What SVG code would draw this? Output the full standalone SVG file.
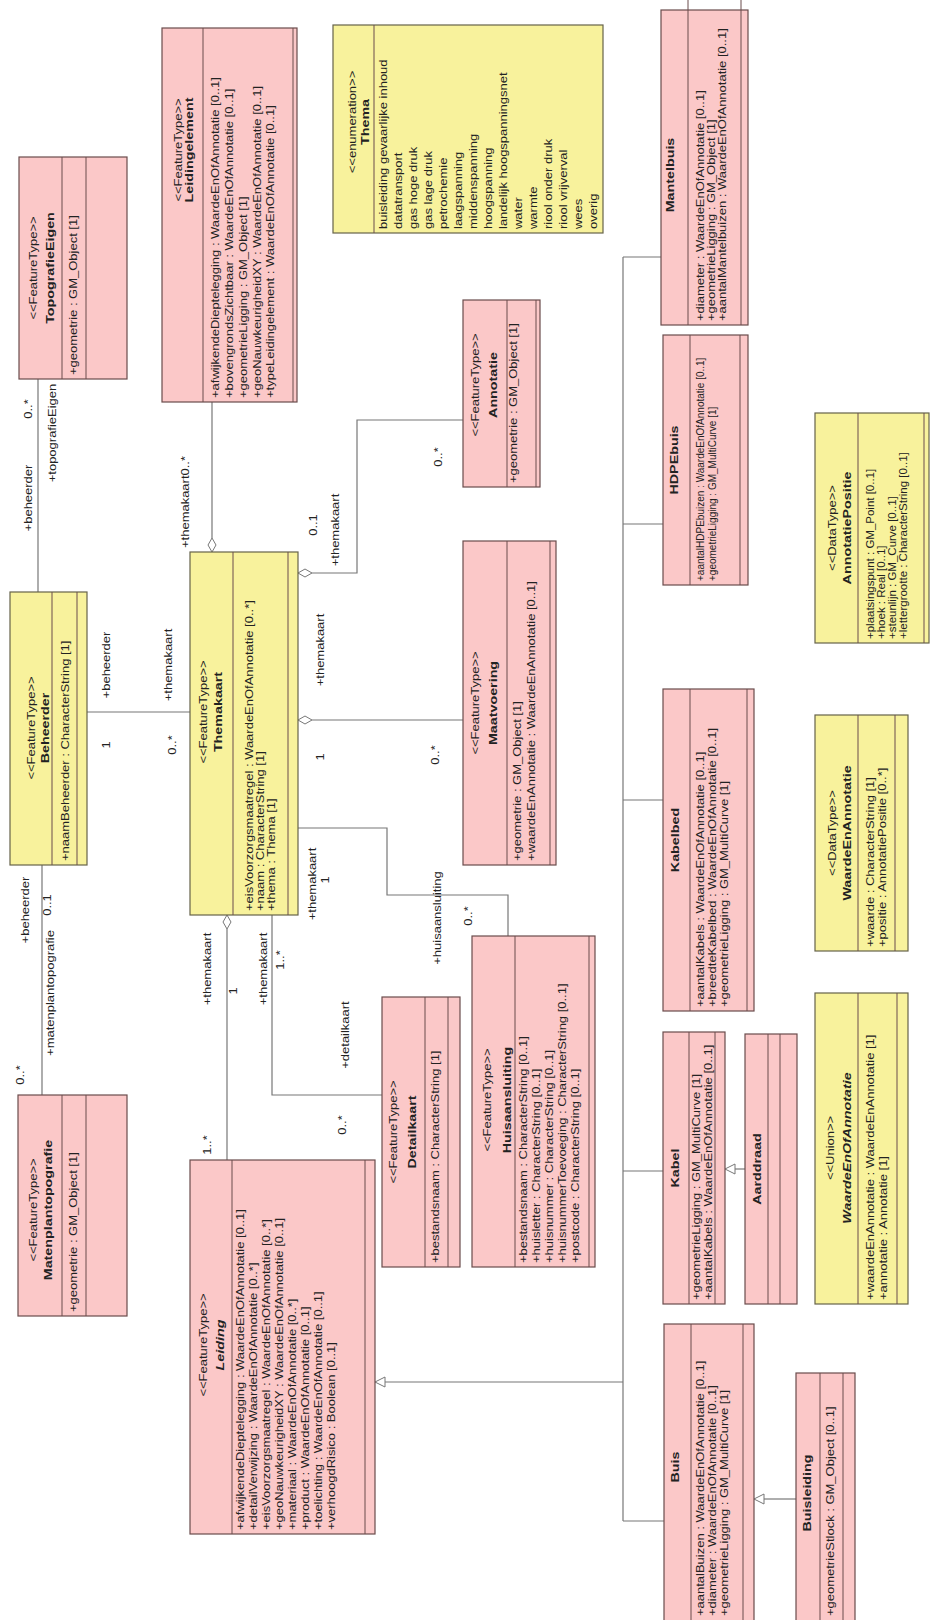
<svg xmlns="http://www.w3.org/2000/svg" width="930" height="1620" viewBox="0 0 930 1620">
<style>
text{font-family:"Liberation Sans",Arial,sans-serif;fill:#222}
.st{font-size:10px}
.nm{font-size:11px;font-weight:bold}
.nmi{font-size:11px;font-weight:bold;font-style:italic}
.at{font-size:10px}
.tv{font-size:10px}
.lb{font-size:10px}
.m{text-anchor:middle}
.bp{fill:#fbc8c8;stroke:#6a4c4c;stroke-width:1.2}
.by{fill:#f8f29c;stroke:#66634a;stroke-width:1.2}
.dv{stroke:#6a4c4c;stroke-width:1}
.cn{fill:none;stroke:#777;stroke-width:1.2}
.dm{fill:#fff;stroke:#777;stroke-width:1}
.tr{fill:#fff;stroke:#777;stroke-width:1}
</style>
<rect width="930" height="1620" fill="#fff"/>

<g id="connectors">
<line class="cn" x1="38" y1="379" x2="38" y2="592"/>
<line class="cn" x1="42" y1="865" x2="42" y2="1095"/>
<line class="cn" x1="87" y1="712" x2="190" y2="712"/>
<line class="cn" x1="212" y1="402" x2="212" y2="538"/>
<polygon class="dm" points="212,538 216,545 212,552 208,545"/>
<polyline class="cn" points="312,573 357,573 357,420 463,420"/>
<polygon class="dm" points="298,573 305,569 312,573 305,577"/>
<line class="cn" x1="312" y1="720" x2="463" y2="720"/>
<polygon class="dm" points="298,720 305,716 312,720 305,724"/>
<polyline class="cn" points="298,828 387,828 387,895 508,895 508,936"/>
<polyline class="cn" points="272,915 272,1095 382,1095"/>
<line class="cn" x1="227" y1="929" x2="227" y2="1160"/>
<polygon class="dm" points="227,915 231,922 227,929 223,922"/>
<line class="cn" x1="623" y1="257" x2="623" y2="1521"/>
<line class="cn" x1="623" y1="257" x2="661" y2="257"/>
<line class="cn" x1="623" y1="524" x2="663" y2="524"/>
<line class="cn" x1="623" y1="800" x2="663" y2="800"/>
<line class="cn" x1="623" y1="1171" x2="663" y2="1171"/>
<line class="cn" x1="623" y1="1521" x2="664" y2="1521"/>
<line class="cn" x1="385" y1="1382" x2="623" y2="1382"/>
<polygon class="tr" points="375,1382 385,1377 385,1387"/>
<line class="cn" x1="735" y1="1169" x2="745" y2="1169"/>
<polygon class="tr" points="725,1169 735,1164 735,1174"/>
<line class="cn" x1="764" y1="1499" x2="796" y2="1499"/>
<polygon class="tr" points="754,1499 764,1494 764,1504"/>

<text class="lb m" transform="translate(31.5,409) rotate(-90) scale(1.3,1)">0..*</text>
<text class="lb m" transform="translate(31.5,498) rotate(-90) scale(1.3,1)">+beheerder</text>
<text class="lb m" transform="translate(55.5,433) rotate(-90) scale(1.3,1)">+topografieEigen</text>
<text class="lb m" transform="translate(28.5,910) rotate(-90) scale(1.3,1)">+beheerder</text>
<text class="lb m" transform="translate(50.5,905) rotate(-90) scale(1.3,1)">0..1</text>
<text class="lb m" transform="translate(53.5,993) rotate(-90) scale(1.3,1)">+matenplantopografie</text>
<text class="lb m" transform="translate(23.5,1075) rotate(-90) scale(1.3,1)">0..*</text>
<text class="lb m" transform="translate(109.5,665) rotate(-90) scale(1.3,1)">+beheerder</text>
<text class="lb m" transform="translate(109.5,745) rotate(-90) scale(1.3,1)">1</text>
<text class="lb m" transform="translate(171.5,665) rotate(-90) scale(1.3,1)">+themakaart</text>
<text class="lb m" transform="translate(175.5,745) rotate(-90) scale(1.3,1)">0..*</text>
<text class="lb m" transform="translate(188.5,502) rotate(-90) scale(1.3,1)">+themakaart0..*</text>
<text class="lb m" transform="translate(316.5,525) rotate(-90) scale(1.3,1)">0..1</text>
<text class="lb m" transform="translate(338.5,530) rotate(-90) scale(1.3,1)">+themakaart</text>
<text class="lb m" transform="translate(441.5,457) rotate(-90) scale(1.3,1)">0..*</text>
<text class="lb m" transform="translate(323.5,650) rotate(-90) scale(1.3,1)">+themakaart</text>
<text class="lb m" transform="translate(323.5,757) rotate(-90) scale(1.3,1)">1</text>
<text class="lb m" transform="translate(438.5,755) rotate(-90) scale(1.3,1)">0..*</text>
<text class="lb m" transform="translate(315.5,884) rotate(-90) scale(1.3,1)">+themakaart</text>
<text class="lb m" transform="translate(328.5,880) rotate(-90) scale(1.3,1)">1</text>
<text class="lb m" transform="translate(440.5,918) rotate(-90) scale(1.3,1)">+huisaansluiting</text>
<text class="lb m" transform="translate(471.5,916) rotate(-90) scale(1.3,1)">0..*</text>
<text class="lb m" transform="translate(210.5,969) rotate(-90) scale(1.3,1)">+themakaart</text>
<text class="lb m" transform="translate(236.5,991) rotate(-90) scale(1.3,1)">1</text>
<text class="lb m" transform="translate(210.5,1145) rotate(-90) scale(1.3,1)">1..*</text>
<text class="lb m" transform="translate(266.5,969) rotate(-90) scale(1.3,1)">+themakaart</text>
<text class="lb m" transform="translate(283.5,960) rotate(-90) scale(1.3,1)">1..*</text>
<text class="lb m" transform="translate(348.5,1035) rotate(-90) scale(1.3,1)">+detailkaart</text>
<text class="lb m" transform="translate(345.5,1125) rotate(-90) scale(1.3,1)">0..*</text>
</g>

<g id="TopografieEigen">
<rect class="bp" x="19" y="157" width="108" height="222"/>
<line class="dv" x1="62" y1="157" x2="62" y2="379"/><line class="dv" x1="86" y1="157" x2="86" y2="379"/>
<text class="st m" transform="translate(36.5,268) rotate(-90) scale(1.3,1)">&lt;&lt;FeatureType&gt;&gt;</text>
<text class="nm m" transform="translate(54,268) rotate(-90) scale(1.3,1)">TopografieEigen</text>
<text class="at" transform="translate(76.5,375) rotate(-90) scale(1.3,1)">+geometrie : GM_Object [1]</text>
</g>

<g id="Beheerder">
<rect class="by" x="10" y="592" width="77" height="273"/>
<line class="dv" x1="52" y1="592" x2="52" y2="865"/><line class="dv" x1="77" y1="592" x2="77" y2="865"/>
<text class="st m" transform="translate(34.5,728) rotate(-90) scale(1.3,1)">&lt;&lt;FeatureType&gt;&gt;</text>
<text class="nm m" transform="translate(49,728) rotate(-90) scale(1.3,1)">Beheerder</text>
<text class="at" transform="translate(68.5,861) rotate(-90) scale(1.3,1)">+naamBeheerder : CharacterString [1]</text>
</g>

<g id="Matenplantopografie">
<rect class="bp" x="18" y="1095" width="109" height="221"/>
<line class="dv" x1="62" y1="1095" x2="62" y2="1316"/><line class="dv" x1="86" y1="1095" x2="86" y2="1316"/>
<text class="st m" transform="translate(36.5,1210) rotate(-90) scale(1.3,1)">&lt;&lt;FeatureType&gt;&gt;</text>
<text class="nm m" transform="translate(52,1210) rotate(-90) scale(1.3,1)">Matenplantopografie</text>
<text class="at" transform="translate(76.5,1312) rotate(-90) scale(1.3,1)">+geometrie : GM_Object [1]</text>
</g>

<g id="Leidingelement">
<rect class="bp" x="162" y="28" width="135" height="374"/>
<line class="dv" x1="203" y1="28" x2="203" y2="402"/><line class="dv" x1="293" y1="28" x2="293" y2="402"/>
<text class="st m" transform="translate(181.5,150) rotate(-90) scale(1.3,1)">&lt;&lt;FeatureType&gt;&gt;</text>
<text class="nm m" transform="translate(193,150) rotate(-90) scale(1.3,1)">Leidingelement</text>
<text class="at" transform="translate(218.5,398) rotate(-90) scale(1.3,1)">+afwijkendeDieptelegging : WaardeEnOfAnnotatie [0..1]</text>
<text class="at" transform="translate(232.5,398) rotate(-90) scale(1.3,1)">+bovengrondsZichtbaar : WaardeEnOfAnnotatie [0..1]</text>
<text class="at" transform="translate(246.5,398) rotate(-90) scale(1.3,1)">+geometrieLigging : GM_Object [1]</text>
<text class="at" transform="translate(260.5,398) rotate(-90) scale(1.3,1)">+geoNauwkeurigheidXY : WaardeEnOfAnnotatie [0..1]</text>
<text class="at" transform="translate(273.5,398) rotate(-90) scale(1.3,1)">+typeLeidingelement : WaardeEnOfAnnotatie [0..1]</text>
</g>

<g id="Thema">
<rect class="by" x="333" y="25" width="270" height="208"/>
<line class="dv" x1="374" y1="25" x2="374" y2="233"/>
<text class="st m" transform="translate(355.5,122) rotate(-90) scale(1.3,1)">&lt;&lt;enumeration&gt;&gt;</text>
<text class="nm m" transform="translate(369,122) rotate(-90) scale(1.3,1)">Thema</text>
<text class="tv" transform="translate(386.5,229) rotate(-90) scale(1.3,1)">buisleiding gevaarlijke inhoud</text>
<text class="tv" transform="translate(401.5,229) rotate(-90) scale(1.3,1)">datatransport</text>
<text class="tv" transform="translate(416.5,229) rotate(-90) scale(1.3,1)">gas hoge druk</text>
<text class="tv" transform="translate(431.5,229) rotate(-90) scale(1.3,1)">gas lage druk</text>
<text class="tv" transform="translate(446.5,229) rotate(-90) scale(1.3,1)">petrochemie</text>
<text class="tv" transform="translate(461.5,229) rotate(-90) scale(1.3,1)">laagspanning</text>
<text class="tv" transform="translate(476.5,229) rotate(-90) scale(1.3,1)">middenspanning</text>
<text class="tv" transform="translate(491.5,229) rotate(-90) scale(1.3,1)">hoogspanning</text>
<text class="tv" transform="translate(506.5,229) rotate(-90) scale(1.3,1)">landelijk hoogspanningsnet</text>
<text class="tv" transform="translate(521.5,229) rotate(-90) scale(1.3,1)">water</text>
<text class="tv" transform="translate(536.5,229) rotate(-90) scale(1.3,1)">warmte</text>
<text class="tv" transform="translate(551.5,229) rotate(-90) scale(1.3,1)">riool onder druk</text>
<text class="tv" transform="translate(566.5,229) rotate(-90) scale(1.3,1)">riool vrijverval</text>
<text class="tv" transform="translate(581.5,229) rotate(-90) scale(1.3,1)">wees</text>
<text class="tv" transform="translate(596.5,229) rotate(-90) scale(1.3,1)">overig</text>
</g>

<g id="Mantelbuis">
<rect class="bp" x="661" y="10" width="87" height="315"/>
<line class="dv" x1="688" y1="0" x2="688" y2="325"/><line class="dv" x1="741" y1="0" x2="741" y2="325"/>
<text class="nm m" transform="translate(674,175) rotate(-90) scale(1.3,1)">Mantelbuis</text>
<text class="at" transform="translate(703.5,321) rotate(-90) scale(1.3,1)">+diameter : WaardeEnOfAnnotatie [0..1]</text>
<text class="at" transform="translate(714.5,321) rotate(-90) scale(1.3,1)">+geometrieLigging : GM_Object [1]</text>
<text class="at" transform="translate(725.5,321) rotate(-90) scale(1.3,1)">+aantalMantelbuizen : WaardeEnOfAnnotatie [0..1]</text>
</g>

<g id="Annotatie">
<rect class="bp" x="463" y="300" width="77" height="187"/>
<line class="dv" x1="507" y1="300" x2="507" y2="487"/><line class="dv" x1="536" y1="300" x2="536" y2="487"/>
<text class="st m" transform="translate(478.5,385) rotate(-90) scale(1.3,1)">&lt;&lt;FeatureType&gt;&gt;</text>
<text class="nm m" transform="translate(497,385) rotate(-90) scale(1.3,1)">Annotatie</text>
<text class="at" transform="translate(516.5,483) rotate(-90) scale(1.3,1)">+geometrie : GM_Object [1]</text>
</g>

<g id="Maatvoering">
<rect class="bp" x="463" y="541" width="93" height="324"/>
<line class="dv" x1="507" y1="541" x2="507" y2="865"/><line class="dv" x1="550" y1="541" x2="550" y2="865"/>
<text class="st m" transform="translate(478.5,703) rotate(-90) scale(1.3,1)">&lt;&lt;FeatureType&gt;&gt;</text>
<text class="nm m" transform="translate(497,703) rotate(-90) scale(1.3,1)">Maatvoering</text>
<text class="at" transform="translate(520.5,861) rotate(-90) scale(1.3,1)">+geometrie : GM_Object [1]</text>
<text class="at" transform="translate(534.5,861) rotate(-90) scale(1.3,1)">+waardeEnAnnotatie : WaardeEnAnnotatie [0..1]</text>
</g>

<g id="Themakaart">
<rect class="by" x="190" y="552" width="108" height="363"/>
<line class="dv" x1="233" y1="552" x2="233" y2="915"/><line class="dv" x1="288" y1="552" x2="288" y2="915"/>
<text class="st m" transform="translate(206.5,712) rotate(-90) scale(1.3,1)">&lt;&lt;FeatureType&gt;&gt;</text>
<text class="nm m" transform="translate(222,712) rotate(-90) scale(1.3,1)">Themakaart</text>
<text class="at" transform="translate(252.5,911) rotate(-90) scale(1.3,1)">+eisVoorzorgsmaatregel : WaardeEnOfAnnotatie [0..*]</text>
<text class="at" transform="translate(263.5,911) rotate(-90) scale(1.3,1)">+naam : CharacterString [1]</text>
<text class="at" transform="translate(274.5,911) rotate(-90) scale(1.3,1)">+thema : Thema [1]</text>
</g>

<g id="HDPEbuis">
<rect class="bp" x="663" y="335" width="85" height="250"/>
<line class="dv" x1="690" y1="335" x2="690" y2="585"/><line class="dv" x1="740" y1="335" x2="740" y2="585"/>
<text class="nm m" transform="translate(678,460) rotate(-90) scale(1.3,1)">HDPEbuis</text>
<text class="at" transform="translate(703.5,581) rotate(-90) scale(1.0,1)">+aantalHDPEbuizen : WaardeEnOfAnnotatie [0..1]</text>
<text class="at" transform="translate(715.5,581) rotate(-90) scale(1.0,1)">+geometrieLigging : GM_MultiCurve [1]</text>
</g>

<g id="Kabelbed">
<rect class="bp" x="663" y="689" width="91" height="322"/>
<line class="dv" x1="690" y1="689" x2="690" y2="1011"/><line class="dv" x1="747" y1="689" x2="747" y2="1011"/>
<text class="nm m" transform="translate(679,840) rotate(-90) scale(1.3,1)">Kabelbed</text>
<text class="at" transform="translate(703.5,1007) rotate(-90) scale(1.3,1)">+aantalKabels : WaardeEnOfAnnotatie [0..1]</text>
<text class="at" transform="translate(715.5,1007) rotate(-90) scale(1.3,1)">+breedteKabelbed : WaardeEnOfAnnotatie [0..1]</text>
<text class="at" transform="translate(727.5,1007) rotate(-90) scale(1.3,1)">+geometrieLigging : GM_MultiCurve [1]</text>
</g>

<g id="AnnotatiePositie">
<rect class="by" x="815" y="413" width="114" height="230"/>
<line class="dv" x1="858" y1="413" x2="858" y2="643"/><line class="dv" x1="924" y1="413" x2="924" y2="643"/>
<text class="st m" transform="translate(835.5,528) rotate(-90) scale(1.3,1)">&lt;&lt;DataType&gt;&gt;</text>
<text class="nm m" transform="translate(851,528) rotate(-90) scale(1.3,1)">AnnotatiePositie</text>
<text class="at" transform="translate(873.5,639) rotate(-90) scale(1.15,1)">+plaatsingspunt : GM_Point [0..1]</text>
<text class="at" transform="translate(884.5,639) rotate(-90) scale(1.15,1)">+hoek : Real [0..1]</text>
<text class="at" transform="translate(895.5,639) rotate(-90) scale(1.15,1)">+steunlijn : GM_Curve [0..1]</text>
<text class="at" transform="translate(906.5,639) rotate(-90) scale(1.15,1)">+lettergrootte : CharacterString [0..1]</text>
</g>

<g id="WaardeEnAnnotatie">
<rect class="by" x="815" y="715" width="93" height="236"/>
<line class="dv" x1="858" y1="715" x2="858" y2="951"/><line class="dv" x1="895" y1="715" x2="895" y2="951"/>
<text class="st m" transform="translate(835.5,833) rotate(-90) scale(1.3,1)">&lt;&lt;DataType&gt;&gt;</text>
<text class="nm m" transform="translate(851,833) rotate(-90) scale(1.3,1)">WaardeEnAnnotatie</text>
<text class="at" transform="translate(873.5,947) rotate(-90) scale(1.3,1)">+waarde : CharacterString [1]</text>
<text class="at" transform="translate(885.5,947) rotate(-90) scale(1.3,1)">+positie : AnnotatiePositie [0..*]</text>
</g>

<g id="Leiding">
<rect class="bp" x="190" y="1160" width="185" height="374"/>
<line class="dv" x1="232" y1="1160" x2="232" y2="1534"/><line class="dv" x1="365" y1="1160" x2="365" y2="1534"/>
<text class="st m" transform="translate(206.5,1345) rotate(-90) scale(1.3,1)">&lt;&lt;FeatureType&gt;&gt;</text>
<text class="nmi m" transform="translate(224,1345) rotate(-90) scale(1.3,1)">Leiding</text>
<text class="at" transform="translate(243.5,1530) rotate(-90) scale(1.3,1)">+afwijkendeDieptelegging : WaardeEnOfAnnotatie [0..1]</text>
<text class="at" transform="translate(256.5,1530) rotate(-90) scale(1.3,1)">+detailVerwijzing : WaardeEnOfAnnotatie [0..*]</text>
<text class="at" transform="translate(269.5,1530) rotate(-90) scale(1.3,1)">+eisVoorzorgsmaatregel : WaardeEnOfAnnotatie [0..*]</text>
<text class="at" transform="translate(282.5,1530) rotate(-90) scale(1.3,1)">+geoNauwkeurigheidXY : WaardeEnOfAnnotatie [0..1]</text>
<text class="at" transform="translate(295.5,1530) rotate(-90) scale(1.3,1)">+materiaal : WaardeEnOfAnnotatie [0..*]</text>
<text class="at" transform="translate(308.5,1530) rotate(-90) scale(1.3,1)">+product : WaardeEnOfAnnotatie [0..1]</text>
<text class="at" transform="translate(321.5,1530) rotate(-90) scale(1.3,1)">+toelichting : WaardeEnOfAnnotatie [0..1]</text>
<text class="at" transform="translate(334.5,1530) rotate(-90) scale(1.3,1)">+verhoogdRisico : Boolean [0..1]</text>
</g>

<g id="Detailkaart">
<rect class="bp" x="382" y="997" width="78" height="270"/>
<line class="dv" x1="425" y1="997" x2="425" y2="1267"/><line class="dv" x1="448" y1="997" x2="448" y2="1267"/>
<text class="st m" transform="translate(396.5,1132) rotate(-90) scale(1.3,1)">&lt;&lt;FeatureType&gt;&gt;</text>
<text class="nm m" transform="translate(416,1132) rotate(-90) scale(1.3,1)">Detailkaart</text>
<text class="at" transform="translate(438.5,1263) rotate(-90) scale(1.3,1)">+bestandsnaam : CharacterString [1]</text>
</g>

<g id="Huisaansluiting">
<rect class="bp" x="472" y="936" width="123" height="331"/>
<line class="dv" x1="515" y1="936" x2="515" y2="1267"/><line class="dv" x1="589" y1="936" x2="589" y2="1267"/>
<text class="st m" transform="translate(490.5,1100) rotate(-90) scale(1.3,1)">&lt;&lt;FeatureType&gt;&gt;</text>
<text class="nm m" transform="translate(511,1100) rotate(-90) scale(1.3,1)">Huisaansluiting</text>
<text class="at" transform="translate(526.5,1263) rotate(-90) scale(1.3,1)">+bestandsnaam : CharacterString [0..1]</text>
<text class="at" transform="translate(539.5,1263) rotate(-90) scale(1.3,1)">+huisletter : CharacterString [0..1]</text>
<text class="at" transform="translate(552.5,1263) rotate(-90) scale(1.3,1)">+huisnummer : CharacterString [0..1]</text>
<text class="at" transform="translate(565.5,1263) rotate(-90) scale(1.3,1)">+huisnummerToevoeging : CharacterString [0..1]</text>
<text class="at" transform="translate(578.5,1263) rotate(-90) scale(1.3,1)">+postcode : CharacterString [0..1]</text>
</g>

<g id="Kabel">
<rect class="bp" x="663" y="1032" width="62" height="272"/>
<line class="dv" x1="689" y1="1032" x2="689" y2="1304"/><line class="dv" x1="715" y1="1032" x2="715" y2="1304"/>
<text class="nm m" transform="translate(679,1168) rotate(-90) scale(1.3,1)">Kabel</text>
<text class="at" transform="translate(699.5,1300) rotate(-90) scale(1.3,1)">+geometrieLigging : GM_MultiCurve [1]</text>
<text class="at" transform="translate(711.5,1300) rotate(-90) scale(1.3,1)">+aantalKabels : WaardeEnOfAnnotatie [0..1]</text>
</g>

<g id="Aarddraad">
<rect class="bp" x="745" y="1034" width="52" height="270"/>
<line class="dv" x1="768" y1="1034" x2="768" y2="1304"/><line class="dv" x1="780" y1="1034" x2="780" y2="1304"/>
<text class="nm m" transform="translate(761,1169) rotate(-90) scale(1.3,1)">Aarddraad</text>
</g>

<g id="WaardeEnOfAnnotatie">
<rect class="by" x="815" y="993" width="93" height="311"/>
<line class="dv" x1="858" y1="993" x2="858" y2="1304"/><line class="dv" x1="897" y1="993" x2="897" y2="1304"/>
<text class="st m" transform="translate(833.5,1148) rotate(-90) scale(1.3,1)">&lt;&lt;Union&gt;&gt;</text>
<text class="nmi m" transform="translate(851,1148) rotate(-90) scale(1.3,1)">WaardeEnOfAnnotatie</text>
<text class="at" transform="translate(873.5,1300) rotate(-90) scale(1.3,1)">+waardeEnAnnotatie : WaardeEnAnnotatie [1]</text>
<text class="at" transform="translate(886.5,1300) rotate(-90) scale(1.3,1)">+annotatie : Annotatie [1]</text>
</g>

<g id="Buis">
<rect class="bp" x="664" y="1324" width="90" height="300"/>
<line class="dv" x1="691" y1="1324" x2="691" y2="1624"/><line class="dv" x1="743" y1="1324" x2="743" y2="1624"/>
<text class="nm m" transform="translate(679,1467) rotate(-90) scale(1.3,1)">Buis</text>
<text class="at" transform="translate(703.5,1616) rotate(-90) scale(1.3,1)">+aantalBuizen : WaardeEnOfAnnotatie [0..1]</text>
<text class="at" transform="translate(715.5,1616) rotate(-90) scale(1.3,1)">+diameter : WaardeEnOfAnnotatie [0..1]</text>
<text class="at" transform="translate(727.5,1616) rotate(-90) scale(1.3,1)">+geometrieLigging : GM_MultiCurve [1]</text>
</g>

<g id="Buisleiding">
<rect class="bp" x="796" y="1373" width="59" height="251"/>
<line class="dv" x1="820" y1="1373" x2="820" y2="1624"/><line class="dv" x1="843" y1="1373" x2="843" y2="1624"/>
<text class="nm m" transform="translate(811,1493) rotate(-90) scale(1.3,1)">Buisleiding</text>
<text class="at" transform="translate(833.5,1616) rotate(-90) scale(1.3,1)">+geometrieStlock : GM_Object [0..1]</text>
</g>
</svg>
